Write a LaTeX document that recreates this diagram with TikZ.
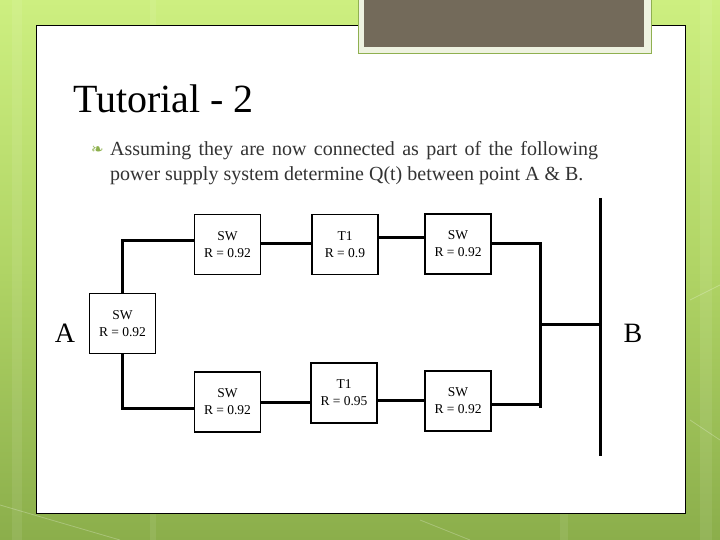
\documentclass[tikz,border=0pt]{standalone}
\usepackage{fontspec}
\setmainfont{Liberation Serif}
\newfontfamily\dejavu{DejaVu Sans}
\usetikzlibrary{calc}
\definecolor{bgtop}{HTML}{CDEF80}
\definecolor{bgmid}{HTML}{B0D465}
\definecolor{bgbot}{HTML}{8BAE4B}
\definecolor{darkbox}{HTML}{736A5A}
\definecolor{framelight}{HTML}{EEF2E0}
\definecolor{frameline}{HTML}{8FB050}
\definecolor{bodytext}{HTML}{333333}
\definecolor{bulletgreen}{HTML}{8DB04C}
\tikzset{
  unitbox/.style={draw=black, line width=1.8pt, fill=white, minimum width=66pt, minimum height=60pt, inner sep=0pt, align=center, font=\fontsize{13.5}{17}\selectfont},
  wire/.style={line width=3pt, line cap=butt, line join=miter},
  endlabel/.style={inner sep=0pt, font=\fontsize{28}{30}\selectfont},
}
\begin{document}
\begin{tikzpicture}[x=1pt,y=-1pt]
\useasboundingbox (0,0) rectangle (720,540);
% background
\shade[top color=bgtop, bottom color=bgbot, middle color=bgmid] (0,0) rectangle (720,540);
\foreach \xx/\ww in {12/10,150/6,560/8,700/12}{
  \fill[white, opacity=0.08] (\xx,0) rectangle ++(\ww,540);
}
\draw[white, opacity=0.25, line width=0.8pt] (0,505) -- (120,540);
\draw[white, opacity=0.25, line width=0.8pt] (420,520) -- (470,540);
\draw[white, opacity=0.25, line width=0.8pt] (690,300) -- (720,285);
\draw[white, opacity=0.25, line width=0.8pt] (690,420) -- (720,440);
% panel
\draw[black, line width=1pt, fill=white] (36,26) rectangle (685,513);
% dark title box
\draw[frameline, line width=0.8pt, fill=framelight] (358,-2) rectangle (651,53);
\fill[darkbox] (364,-2) rectangle (644,47);
% title
\node[anchor=base west, inner sep=0pt, font=\fontsize{40}{44}\selectfont] (title) at (73,113) {Tutorial - 2};
% bullet
\node[anchor=base west, inner sep=0pt, text=bulletgreen, font=\dejavu\fontsize{15}{16}\selectfont] (bullet) at (91,155) {❧};
\node[anchor=base west, inner sep=0pt, text=bodytext, font=\fontsize{20}{24}\selectfont] (line1) at (110,156) {\makebox[488pt][s]{Assuming they are now connected as part of the following}};
\node[anchor=base west, inner sep=0pt, text=bodytext, font=\fontsize{20}{24}\selectfont] (line2) at (110,181) {power supply system determine Q(t) between point A \& B.};
% units
\node[unitbox] (swL) at (122.5,323.5) {SW\\R = 0.92};
\node[unitbox] (sw1) at (227.5,244.5) {SW\\R = 0.92};
\node[unitbox] (t1) at (345,244.5) {T1\\R = 0.9};
\node[unitbox] (sw2) at (458,244) {SW\\R = 0.92};
\node[unitbox] (sw3) at (227.5,402) {SW\\R = 0.92};
\node[unitbox] (t2) at (344,393) {T1\\R = 0.95};
\node[unitbox] (sw4) at (458,401) {SW\\R = 0.92};
% end labels
\node[endlabel] (A) at (65,333) {A};
\node[endlabel] (B) at (633,333) {B};
% junction and bus coordinates
\coordinate (jb) at (540,408);
\coordinate (jl) at (540,404);
\coordinate (jm) at (540,324);
\coordinate (bm) at (601,324);
\coordinate (bt) at (600,198);
\coordinate (bb) at (600,456);
% connectors
\draw[wire] (swL.north) |- ($(sw1.west)+(0,-4.5)$);
\draw[wire] (swL.south) |- ($(sw3.west)+(0,6)$);
\draw[wire] ($(sw1.east)+(0,-1.5)$) -- ($(t1.west)+(0,-1.5)$);
\draw[wire] ($(t1.east)+(0,-7)$) -- ($(sw2.west)+(0,-6.5)$);
\draw[wire] ($(sw2.east)+(0,-1)$) -| (jb);
\draw[wire] (sw3.east) -- (sw3.east -| t2.west);
\draw[wire] ($(t2.east)+(0,7)$) -- ($(sw4.west)+(0,-1)$);
\draw[wire] ($(sw4.east)+(0,3)$) -- (jl);
\draw[wire] (jm) -- (bm);
\draw[wire] (bt) -- (bb);
\end{tikzpicture}
\end{document}
